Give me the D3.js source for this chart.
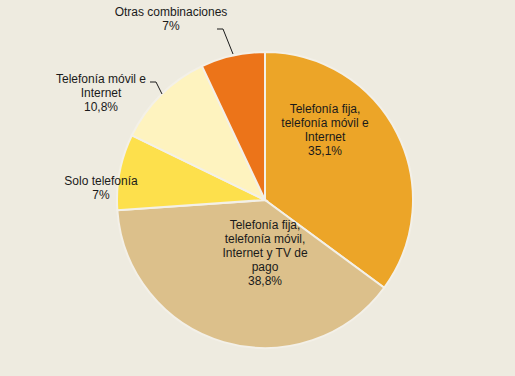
<!DOCTYPE html>
<html lang="es">
<head>
  <meta charset="UTF-8">
  <title>Combinaciones de servicios</title>
  <script src="https://d3js.org/d3.v7.min.js"></script>
  <style>
    body
    {
      margin: 0;
      padding: 0;
      background-color: #eeebe0;
    }
    svg text
    {
      font-family: "Liberation Sans", Arial, sans-serif;
      font-size: 12px;
      fill: #1a1a1a;
    }
  </style>
</head>
<body>
  <svg width="515" height="376"></svg>
  <script>
    const width = 515;
    const height = 376;

    // slice order: clockwise from 12 o'clock
    const categories = [
      ["Telefonía fija,", "telefonía móvil e", "Internet"],
      ["Telefonía fija,", "telefonía móvil,", "Internet y TV de", "pago"],
      ["Solo telefonía"],
      ["Telefonía móvil e", "Internet"],
      ["Otras combinaciones"]
    ];
    // slice sizes
    const values = [35.1, 38.8, 8.3, 10.8, 7.0];
    // percentages as printed on the chart
    const pctLabels = ["35,1%", "38,8%", "7%", "10,8%", "7%"];
    const colors = ["#eca528", "#dcc08b", "#fde04c", "#fef3bf", "#ec7419"];

    const cx = 265, cy = 200, radius = 148;

    const svg = d3.select("svg");
    const g = svg.append("g").attr("transform", `translate(${cx},${cy})`);

    const pie = d3.pie().sort(null).value(d => d.value);
    const arc = d3.arc().innerRadius(0).outerRadius(radius);

    const data = values.map((v, i) => ({ value: v, lines: categories[i], pct: pctLabels[i], color: colors[i] }));
    const arcs = pie(data);

    g.selectAll("path")
      .data(arcs)
      .enter()
      .append("path")
      .attr("d", arc)
      .attr("fill", d => d.data.color)
      .attr("stroke", "#f3f0e8")
      .attr("stroke-width", 2);

    // label anchor points (centre of the text block) and leader lines
    const labelPos = [
      { x: 325, y: 130, inside: true },
      { x: 265, y: 253, inside: true },
      { x: 101, y: 188 },
      { x: 101, y: 93, leader: [[150, 82], [156, 82], [162, 94]] },
      { x: 171, y: 19, leader: [[217, 29], [223, 29], [233, 54]] }
    ];
    const lineH = 14;

    arcs.forEach((a, i) => {
      const p = labelPos[i];
      const lines = a.data.lines.concat([a.data.pct]);
      const top = p.y - (lines.length - 1) * lineH / 2;
      const t = svg.append("text")
        .attr("text-anchor", "middle");
      lines.forEach((l, j) => {
        t.append("tspan")
          .attr("x", p.x)
          .attr("y", top + j * lineH)
          .attr("dy", "0.35em")
          .text(l);
      });
      if (p.leader) {
        svg.append("path")
          .attr("d", d3.line()(p.leader))
          .attr("fill", "none")
          .attr("stroke", "#1a1a1a")
          .attr("stroke-width", 1);
      }
    });
  </script>
</body>
</html>
